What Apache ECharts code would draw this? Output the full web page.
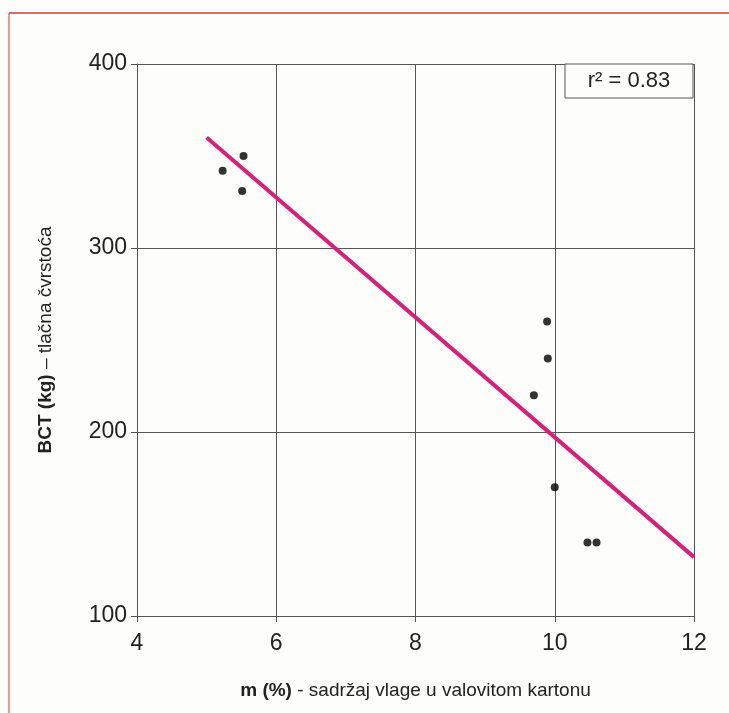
<!DOCTYPE html>
<html>
<head>
<meta charset="utf-8">
<script src="https://cdn.jsdelivr.net/npm/echarts@6/dist/echarts.min.js"></script>
<style>
  html, body { margin: 0; padding: 0; background: #fdfdfb; }
  #myChart { width: 729px; height: 713px; }
</style>
</head>
<body>
<div id="myChart"></div>
<script>
// measured points: moisture (%) vs BCT (kg)
const moisture = [5.23, 5.53, 5.51, 9.89, 9.9, 9.7, 10.0, 10.47, 10.6];
const bct = [342, 350, 331, 260, 240, 220, 170, 140, 140];
// regression line end points
const trendX = [5.0, 12.0];
const trendY = [360, 132];
const xTicks = [4, 6, 8, 10, 12];
const yTicks = [100, 200, 300, 400];
const r2Label = "r² = 0.83";

let myChart = echarts.init(document.getElementById("myChart"));
myChart.setOption({
  backgroundColor: "#fdfdfb",
  animation: false,
  textStyle: { fontFamily: "Liberation Sans, Arial, sans-serif" },
  grid: { left: 137, right: 35, top: 64, bottom: 97 },
  xAxis: {
    type: "value",
    min: xTicks[0],
    max: xTicks[xTicks.length - 1],
    interval: 2,
    name: "{b|m (%)} - sadržaj vlage u valovitom kartonu",
    nameLocation: "middle",
    nameGap: 65,
    nameTextStyle: {
      fontSize: 19,
      color: "#222",
      rich: { b: { fontSize: 19, fontWeight: "bold", color: "#222" } },
    },
    axisLine: { lineStyle: { color: "#555", width: 1 } },
    axisTick: { show: true, length: 6, lineStyle: { color: "#555" } },
    axisLabel: { fontSize: 23, color: "#222", margin: 16 },
    splitLine: { show: true, lineStyle: { color: "#555", width: 1 } },
  },
  yAxis: {
    type: "value",
    min: yTicks[0],
    max: yTicks[yTicks.length - 1],
    interval: 100,
    name: "{b|BCT (kg)} – tlačna čvrstoća",
    nameLocation: "middle",
    nameGap: 82,
    nameTextStyle: {
      fontSize: 19,
      color: "#222",
      rich: { b: { fontSize: 19, fontWeight: "bold", color: "#222" } },
    },
    axisLine: { show: true, lineStyle: { color: "#555", width: 1 } },
    axisTick: { show: true, length: 6, lineStyle: { color: "#555" } },
    axisLabel: { fontSize: 23, color: "#222", margin: 10 },
    splitLine: { show: true, lineStyle: { color: "#555", width: 1 } },
  },
  series: [
    {
      type: "line",
      data: trendX.map((x, i) => [x, trendY[i]]),
      symbol: "none",
      lineStyle: { color: "#d4217a", width: 4 },
      z: 3,
    },
    {
      type: "scatter",
      data: moisture.map((x, i) => [x, bct[i]]),
      symbolSize: 8,
      itemStyle: { color: "#000" },
      z: 4,
    },
  ],
  graphic: [
    // red frame
    { type: "line", shape: { x1: 9, y1: 13, x2: 729, y2: 13 }, style: { stroke: "#d33", lineWidth: 1.5 } },
    { type: "line", shape: { x1: 9, y1: 13, x2: 9, y2: 713 }, style: { stroke: "#d33", lineWidth: 1 } },
    // r² box
    {
      type: "rect",
      shape: { x: 565, y: 64, width: 128, height: 34 },
      style: { fill: "#fdfdfb", stroke: "#555", lineWidth: 1 },
      z: 10,
    },
    {
      type: "text",
      x: 629, y: 81,
      style: {
        text: r2Label,
        fontSize: 22,
        fill: "#222",
        fontFamily: "Liberation Sans, Arial, sans-serif",
        align: "center",
        verticalAlign: "middle",
      },
      z: 11,
    },
  ],
});
</script>
</body>
</html>
